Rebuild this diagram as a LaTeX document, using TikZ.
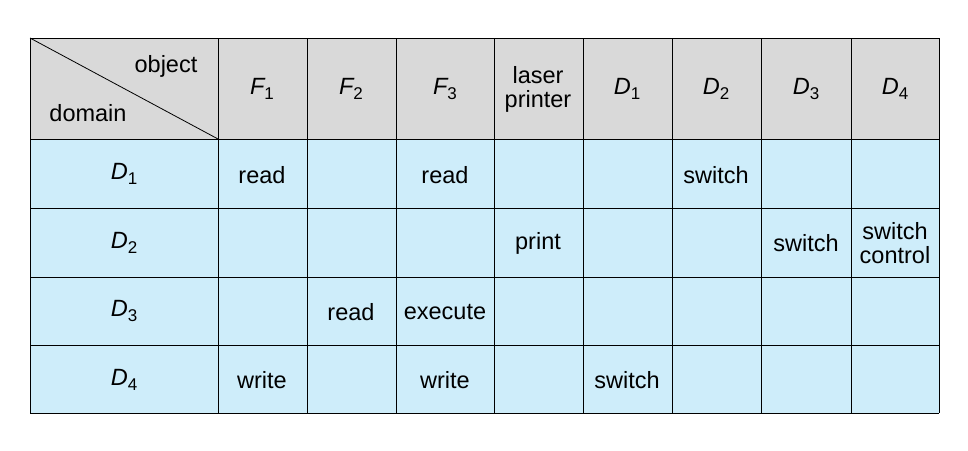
\documentclass[tikz,border=0pt]{standalone}
\usepackage{fontspec}
\setmainfont{Liberation Sans}
\definecolor{hdr}{RGB}{217,217,217}
\definecolor{cellb}{RGB}{206,237,250}
\newcommand{\sub}[2]{{\itshape #1}\raisebox{-0.35ex}{\fontsize{17}{19}\selectfont #2}}
\begin{document}
\begin{tikzpicture}[x=1pt,y=-1pt,
  txt/.style={font=\fontsize{23.5}{24}\selectfont, align=center, inner sep=0pt}]
\useasboundingbox (0,0) rectangle (968,450);
\fill[hdr] (30,38) rectangle (939,139);
\fill[cellb] (30,139) rectangle (939,413);
\foreach \y in {38,139,208,277,345,413} \draw[line width=0.8pt] (30,\y) -- (939,\y);
\foreach \x in {30,218,307,396,494,583,672,761,851,939} \draw[line width=0.8pt] (\x,38) -- (\x,413);
\draw[line width=0.8pt] (30,38) -- (218,139);
\node[txt] (obj) at (166,66) {object};
\node[txt] (dom) at (88,113) {domain};
% header
\node[txt] (hF1) at (262,89) {\sub{F}{1}};
\node[txt] (hF2) at (351,89) {\sub{F}{2}};
\node[txt] (hF3) at (445,89) {\sub{F}{3}};
\node[txt] (hLP) at (538,89) {laser\\printer};
\node[txt] (hD1) at (627,89) {\sub{D}{1}};
\node[txt] (hD2) at (716,89) {\sub{D}{2}};
\node[txt] (hD3) at (806,89) {\sub{D}{3}};
\node[txt] (hD4) at (895,89) {\sub{D}{4}};
% row labels
\node[txt] (r1) at (124,174) {\sub{D}{1}};
\node[txt] (r2) at (124,243) {\sub{D}{2}};
\node[txt] (r3) at (124,311) {\sub{D}{3}};
\node[txt] (r4) at (124,380) {\sub{D}{4}};
% cells
\node[txt] (c11) at (262,175) {read};
\node[txt] (c13) at (445,175) {read};
\node[txt] (c16) at (716,175) {switch};
\node[txt] (c24) at (538,243) {print};
\node[txt] (c27) at (806,243) {switch};
\node[txt] (c28) at (895,243) {switch\\control};
\node[txt] (c32) at (351,312) {read};
\node[txt] (c33) at (445,312) {execute};
\node[txt] (c41) at (262,380) {write};
\node[txt] (c43) at (445,380) {write};
\node[txt] (c45) at (627,380) {switch};
\end{tikzpicture}
\end{document}
